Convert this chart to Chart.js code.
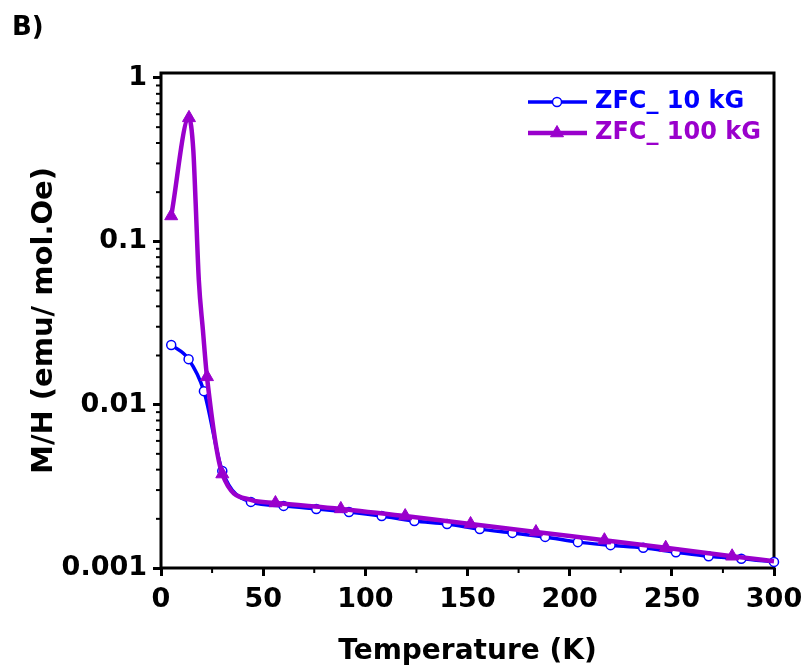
<!DOCTYPE html>
<html><head><meta charset="utf-8">
<script src="https://cdn.jsdelivr.net/npm/chart.js@4.4.1/dist/chart.umd.min.js"></script>
<style>html,body{margin:0;padding:0;background:#fff}canvas{display:block}</style>
</head><body>
<canvas id="c" width="805" height="672"></canvas>
<script>
// ---- data ----
const seriesNames = ['ZFC_ 10 kG', 'ZFC_ 100 kG'];
const tempBlue = [5, 13.5, 21, 30, 44, 60, 76, 92, 108, 124, 140, 156, 172, 188, 204, 220, 236, 252, 268, 284, 300];
const mhBlue   = [0.0232, 0.0190, 0.0121, 0.00393, 0.00254, 0.00240, 0.00230, 0.00220, 0.00208, 0.00194, 0.00186,
                  0.00173, 0.00164, 0.00155, 0.00144, 0.00138, 0.00133, 0.00125, 0.00118, 0.00114, 0.00109];
const tempPurple = [5, 13.7, 15.8, 16.9, 18.5, 20.5, 22.5, 30, 44, 56, 88, 119.5, 151.5, 183.5, 217, 247, 279.5, 300];
const mhPurple   = [0.143, 0.570, 0.363, 0.179, 0.058, 0.0287, 0.0148, 0.00376, 0.00261, 0.00250, 0.00230,
                    0.00208, 0.00186, 0.00166, 0.00148, 0.00133, 0.00118, 0.00110];
// points read from the drawn purple curve that carry no marker
const purpleLineOnlyT = [15.8, 16.9, 18.5, 20.5, 44, 300];
const xMajorTicks = [0, 50, 100, 150, 200, 250, 300];
const xMinorTicks = [25, 75, 125, 175, 225, 275];
const yMajorTicks = [0.001, 0.01, 0.1, 1];
const yTickLabels = ['0.001', '0.01', '0.1', '1'];
const yMinorMantissa = [2, 3, 4, 5, 6, 7, 8, 9];
const yDecades = [0.001, 0.01, 0.1];

const FONT = '"DejaVu Sans", "Liberation Sans", Arial, sans-serif';
const BLUE = '#0000ff';
const PURPLE = '#9a00cc';

const zip = (xs, ys) => xs.map((x, i) => ({x, y: ys[i]}));

const framePlugin = {
  id: 'frame',
  beforeDatasetsDraw(chart) {
    const {ctx, chartArea: a, scales: {x, y}} = chart;
    ctx.save();
    ctx.strokeStyle = '#000';
    ctx.lineWidth = 2;
    xMinorTicks.forEach(v => {
      const p = x.getPixelForValue(v);
      ctx.beginPath(); ctx.moveTo(p, a.bottom); ctx.lineTo(p, a.bottom + 5); ctx.stroke();
    });
    yDecades.forEach(d => yMinorMantissa.forEach(m => {
      const p = y.getPixelForValue(m * d);
      ctx.beginPath(); ctx.moveTo(a.left - 5, p); ctx.lineTo(a.left, p); ctx.stroke();
    }));
    ctx.lineWidth = 3;
    ctx.strokeRect(a.left, a.top, a.right - a.left, a.bottom - a.top);
    ctx.restore();
  }
};

const legendPlugin = {
  id: 'insideLegend',
  afterDraw(chart) {
    const ctx = chart.ctx;
    const rows = [{y: 102, ds: chart.data.datasets[1]}, {y: 133, ds: chart.data.datasets[0]}];
    ctx.save();
    rows.forEach(r => {
      const ds = r.ds;
      ctx.strokeStyle = ds.borderColor;
      ctx.lineWidth = ds.borderWidth;
      ctx.beginPath(); ctx.moveTo(528, r.y); ctx.lineTo(587, r.y); ctx.stroke();
      ctx.lineWidth = ds.pointBorderWidth;
      ctx.fillStyle = ds.pointBackgroundColor;
      ctx.strokeStyle = ds.pointBorderColor;
      const cx = 557, rad = ds.legendRadius;
      ctx.beginPath();
      if (ds.pointStyle === 'triangle') {
        let a = 0;
        ctx.moveTo(cx + Math.sin(a) * rad, r.y - Math.cos(a) * rad);
        a += 2 * Math.PI / 3; ctx.lineTo(cx + Math.sin(a) * rad, r.y - Math.cos(a) * rad);
        a += 2 * Math.PI / 3; ctx.lineTo(cx + Math.sin(a) * rad, r.y - Math.cos(a) * rad);
        ctx.closePath();
      } else {
        ctx.arc(cx, r.y, rad, 0, Math.PI * 2);
      }
      ctx.fill(); ctx.stroke();
      ctx.fillStyle = ds.borderColor;
      ctx.font = 'bold 24px ' + FONT;
      ctx.textBaseline = 'middle';
      ctx.textAlign = 'left';
      ctx.fillText(ds.label, 595, r.y);
    });
    ctx.restore();
  }
};

new Chart(document.getElementById('c'), {
  type: 'line',
  data: {
    datasets: [
      {
        label: seriesNames[1],
        data: zip(tempPurple, mhPurple),
        borderColor: PURPLE, borderWidth: 4.5,
        pointStyle: 'triangle',
        pointRadius: c => purpleLineOnlyT.includes(c.raw && c.raw.x) ? 0 : 7.5,
        pointBackgroundColor: PURPLE, pointBorderColor: PURPLE, pointBorderWidth: 1,
        legendRadius: 7.5,
        cubicInterpolationMode: 'monotone',
        clip: false, order: 1
      },
      {
        label: seriesNames[0],
        data: zip(tempBlue, mhBlue),
        borderColor: BLUE, borderWidth: 3.5,
        pointStyle: 'circle', pointRadius: 4.5,
        pointBackgroundColor: '#ffffff', pointBorderColor: BLUE, pointBorderWidth: 1.5,
        legendRadius: 4.5,
        cubicInterpolationMode: 'monotone',
        clip: false, order: 2
      }
    ]
  },
  options: {
    responsive: false,
    animation: false,
    events: [],
    layout: {padding: {top: 0, left: 12, right: 31, bottom: 0}},
    plugins: {
      legend: {display: false},
      tooltip: {enabled: false},
      title: {
        display: true, text: 'B)', align: 'start', color: '#000',
        font: {family: FONT, size: 26, weight: 'bold'},
        padding: {top: 13, bottom: 28.8}
      }
    },
    scales: {
      x: {
        type: 'linear', position: 'bottom', min: 0, max: 300,
        afterFit: s => { s.height = 104; s.paddingLeft = 0; s.paddingRight = 0; },
        afterBuildTicks: s => { s.ticks = xMajorTicks.map(v => ({value: v})); },
        ticks: {color: '#000', padding: 8, maxRotation: 0, autoSkip: false,
                font: {family: FONT, size: 27, weight: 'bold'}},
        grid: {display: true, drawOnChartArea: false, drawTicks: true, tickLength: 8, tickWidth: 3, tickColor: '#000'},
        border: {display: false},
        title: {display: true, text: 'Temperature (K)', color: '#000',
                font: {family: FONT, size: 28, weight: 'bold'}, padding: {top: 0, bottom: 3}}
      },
      y: {
        type: 'logarithmic', position: 'left', min: 0.001, max: 1.073,
        afterFit: s => { s.width = 149; s.paddingTop = 0; s.paddingBottom = 0; },
        afterBuildTicks: s => { s.ticks = yMajorTicks.map(v => ({value: v})); },
        ticks: {color: '#000', padding: 6, autoSkip: false,
                callback: (v) => yTickLabels[yMajorTicks.indexOf(v)] ?? '',
                font: {family: FONT, size: 27, weight: 'bold'}},
        grid: {display: true, drawOnChartArea: false, drawTicks: true, tickLength: 8, tickWidth: 3, tickColor: '#000'},
        border: {display: false},
        title: {display: true, text: 'M/H (emu/ mol.Oe)', color: '#000',
                font: {family: FONT, size: 29, weight: 'bold'}, padding: {top: 15, bottom: 0}}
      }
    }
  },
  plugins: [framePlugin, legendPlugin]
});
</script>
</body></html>
